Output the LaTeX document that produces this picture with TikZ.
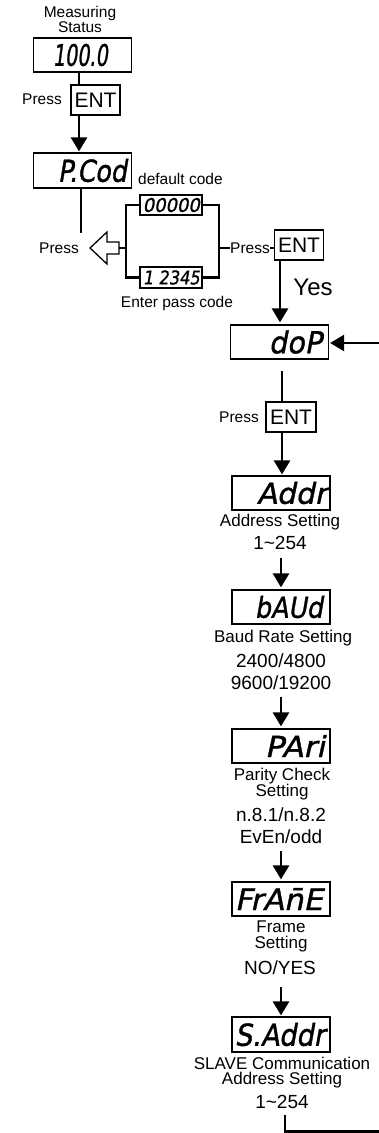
\documentclass[tikz,border=0pt]{standalone}
\usepackage{fontspec}
\usepackage{graphicx}
\setmainfont{Liberation Sans}
\newfontfamily\segfont[FakeSlant=0.2,FakeBold=1.2]{DejaVu Sans}
\usetikzlibrary{arrows.meta}
\newcommand{\segtxt}[3]{\resizebox{#1}{#2}{\segfont #3}}
\begin{document}
\begin{tikzpicture}[x=1pt,y=-1pt,
  disp/.style={draw,line width=1.2pt,minimum width=98pt,minimum height=34pt,inner sep=0pt},
  seg/.style={inner sep=0pt,anchor=east},
  ent/.style={draw,line width=1.2pt,minimum width=49pt,minimum height=30pt,inner sep=0pt,font=\fontsize{21}{21}\selectfont},
  lbl/.style={font=\fontsize{15.5}{15}\selectfont,inner sep=0pt,align=center},
  setlbl/.style={font=\fontsize{17}{16}\selectfont,inner sep=0pt,align=center},
  val/.style={font=\fontsize{19}{22}\selectfont,inner sep=0pt,align=center},
  conn/.style={line width=2.6pt},
  brk/.style={line width=2.2pt},
  arr/.style={line width=2.6pt,-{Triangle[width=16pt,length=14pt]}},
  ]
\useasboundingbox (0,0) rectangle (379,1133);

% --- top: measuring status
\node[lbl] (meas) at (80,19) {Measuring\\Status};
\node[disp] (d100) at (82.5,55) {};
\node[seg] (t100) at (108,55) {\segtxt{55pt}{22pt}{100.0}};
\node[ent] (ent1) at (95.5,100) {ENT};
\node[lbl] (press1) at (42,99) {Press};
\coordinate (c1) at (79,0);
\draw[conn] (d100.south -| c1) -- (ent1.north -| c1);

% --- P.Cod
\node[disp,minimum height=35pt] (dpcod) at (82.5,170.5) {};
\node[seg] (tpcod) at (127,170.5) {\segtxt{69pt}{23pt}{P.Cod}};
\draw[arr,shorten >=1pt] (ent1.south -| c1) -- (dpcod.north -| c1);
\node[lbl,anchor=west] (defc) at (138,179) {default code};
\coordinate (c2) at (81,0);
\coordinate (pend) at (81,233);
\draw[conn] (dpcod.south -| c2) -- (pend);
\node[lbl] (press2) at (59,248) {Press};

% hollow arrow
\draw[line width=1.3pt,line join=miter] (90,248) -- (107,232) -- (107,242) -- (119,242) -- (119,254) -- (107,254) -- (107,264) -- cycle;
\coordinate (hol) at (119,248);

% code boxes
\node[draw,line width=1.2pt,minimum width=62pt,minimum height=20pt,inner sep=0pt] (d0) at (171,205) {};
\node[seg] (t0) at (200,205) {\segtxt{57pt}{14pt}{00000}};
\node[draw,line width=1.2pt,minimum width=62pt,minimum height=21pt,inner sep=0pt] (d1) at (171,277.5) {};
\node[seg] (t1) at (200,277.5) {\segtxt{57pt}{14pt}{1 2345}};
\node[lbl] (enterpc) at (177,303) {Enter pass code};

\coordinate (bxl) at (126,240);
\coordinate (bxr) at (219,240);
\draw[brk] (d0.west) -| (bxl) |- (d1.west);
\draw[brk] (d0.east) -| (bxr) |- (d1.east);
\draw[brk] (hol) -- (hol -| bxl);

\node[ent] (ent2) at (299,245) {ENT};
\node[lbl] (press3) at (250,248) {Press};
\draw[brk] (press3.west -| bxr) -- (press3.west);
\draw[brk] (press3.east) -- (press3.east -| ent2.west);
\node[font=\fontsize{24}{24}\selectfont,inner sep=0pt] (yes) at (313,287) {Yes};

% --- doP
\node[disp] (ddop) at (279.5,342) {};
\node[seg] (tdop) at (322,342) {\segtxt{53pt}{23pt}{doP}};
\coordinate (c3) at (280,0);
\draw[arr,shorten >=2pt] (ent2.south -| c3) -- (ddop.north -| c3);
\coordinate (rin) at (379,343);
\draw[arr,line width=2.4pt,shorten >=1pt] (rin) -- (rin -| ddop.east);

\coordinate (dopgap) at (282,371);
\node[ent,minimum width=50pt] (ent3) at (291,417) {ENT};
\node[lbl] (press4) at (239,417) {Press};
\draw[conn] (dopgap) -- (ent3.north -| dopgap);

% --- Addr
\node[disp] (daddr) at (281,493) {};
\node[seg] (taddr) at (327,493) {\segtxt{70pt}{22pt}{Addr}};
\draw[arr,shorten >=1pt] (ent3.south -| dopgap) -- (daddr.north -| dopgap);
\node[setlbl] (laddr) at (280,522) {Address Setting};
\node[val] (vaddr) at (280,543) {1\textasciitilde254};

% --- bAUd
\node[disp] (dbaud) at (281,607) {};
\node[seg] (tbaud) at (323,607) {\segtxt{68pt}{22pt}{bAUd}};
\draw[arr,shorten <=8pt,shorten >=2pt] (vaddr.south -| dbaud.north) -- (dbaud.north);
\node[setlbl] (lbaud) at (283,638) {Baud Rate Setting};
\node[val] (vbaud) at (281,672) {2400/4800\\9600/19200};

% --- PAri
\node[disp] (dpari) at (281,746) {};
\node[seg] (tpari) at (325,746) {\segtxt{60pt}{22pt}{PAri}};
\draw[arr,shorten <=7pt,shorten >=2pt] (vbaud.south -| dpari.north) -- (dpari.north);
\node[setlbl] (lpari) at (282,784) {Parity Check\\Setting};
\node[val] (vpari) at (281,826) {n.8.1/n.8.2\\EvEn/odd};

% --- FrAmE
\node[disp] (dframe) at (281,899) {};
\node[seg] (tframe) at (323,899) {\segtxt{88pt}{22pt}{FrA\={n}E}};
\draw[arr,shorten <=7pt,shorten >=2pt] (vpari.south -| dframe.north) -- (dframe.north);
\node[setlbl] (lframe) at (281,936.5) {Frame\\Setting};
\node[val] (vframe) at (280,968) {NO/YES};

% --- S.Addr
\node[disp,minimum height=35pt] (dsaddr) at (281,1034.5) {};
\node[seg] (tsaddr) at (325,1034.5) {\segtxt{90pt}{23pt}{S.Addr}};
\draw[arr,shorten <=12pt,shorten >=1pt] (vframe.south -| dsaddr.north) -- (dsaddr.north);
\node[setlbl,font=\fontsize{17}{15.5}\selectfont] (lsaddr) at (282,1072.5) {SLAVE Communication\\Address Setting};
\node[val] (vsaddr) at (282,1102) {1\textasciitilde254};

\coordinate (bstart) at (285,1115);
\coordinate (bend) at (285,1131.5);
\coordinate (bout) at (379,1131.5);
\draw[conn,line width=2.2pt] (bstart) -- (bend) -- (bout);
\end{tikzpicture}
\end{document}
